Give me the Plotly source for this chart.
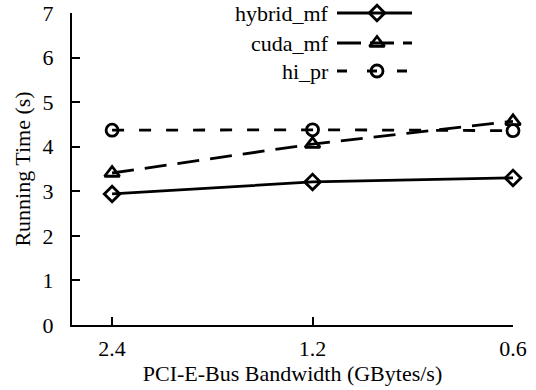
import plotly.graph_objects as go

categories = ["2.4", "1.2", "0.6"]
hybrid_mf = [2.94, 3.21, 3.30]
cuda_mf = [3.41, 4.06, 4.57]
hi_pr = [4.37, 4.38, 4.36]
series_names = ["hybrid_mf", "cuda_mf", "hi_pr"]
y_ticks = [0, 1, 2, 3, 4, 5, 6, 7]

FONT = "Liberation Serif, Times New Roman, serif"
FS = 22
W, H = 536, 390
L, R, T, B = 72, 23, 13, 65
PW, PH = W - L - R, H - T - B


def px_x(v):
    return (v - L) / PW


def px_y(v):
    return (H - B - v) / PH


styles = [
    dict(dash="solid", symbol="diamond-open", size=12),
    dict(dash="22px,11px", symbol="triangle-up-open", size=13),
    dict(dash="12px,15px", symbol="circle-open", size=12),
]
values = [hybrid_mf, cuda_mf, hi_pr]
xs = list(range(len(categories)))

fig = go.Figure()
for name, vals, st in zip(series_names, values, styles):
    fig.add_trace(go.Scatter(
        x=xs, y=vals, mode="lines+markers", name=name, showlegend=False,
        line=dict(color="black", width=2.8, dash=st["dash"]),
        marker=dict(symbol=st["symbol"], size=st["size"], color="black",
                    line=dict(width=2.8, color="black")),
        cliponaxis=False,
    ))

# custom legend (text left, sample to the right)
legend_rows = [13, 43, 71]
legend_dash = ["solid", "24px,9px", "10px,20px"]
for name, st, dsh, yy in zip(series_names, styles, legend_dash, legend_rows):
    fig.add_shape(type="line", xref="paper", yref="paper",
                  x0=px_x(337), x1=px_x(412), y0=px_y(yy), y1=px_y(yy),
                  line=dict(color="black", width=2.8, dash=dsh), layer="below")
    fig.add_trace(go.Scatter(
        x=[377], y=[yy], mode="markers", xaxis="x2", yaxis="y2",
        showlegend=False, hoverinfo="skip", cliponaxis=False,
        marker=dict(symbol=st["symbol"], size=st["size"], color="black",
                    line=dict(width=2.8, color="black")),
    ))
    fig.add_annotation(x=331, y=yy, xref="x2", yref="y2", text=name,
                       showarrow=False, xanchor="right", yanchor="middle",
                       font=dict(family=FONT, size=FS, color="black"))

fig.update_layout(
    width=W, height=H,
    margin=dict(l=L, r=R, t=T, b=B, autoexpand=False),
    paper_bgcolor="white", plot_bgcolor="white",
    font=dict(family=FONT, size=FS, color="black"),
    xaxis=dict(
        range=[-0.2, 2.0], tickvals=xs, ticktext=categories,
        showline=True, linecolor="black", linewidth=2, mirror=False,
        ticks="inside", ticklen=8, tickwidth=1.5, tickcolor="black",
        showgrid=False, zeroline=False, automargin=False,
        ticklabelstandoff=3,
        title=dict(text="PCI-E-Bus Bandwidth (GBytes/s)", standoff=0,
                   font=dict(family=FONT, size=FS)),
    ),
    yaxis=dict(
        range=[0, 7], tickvals=y_ticks,
        showline=True, linecolor="black", linewidth=2,
        ticks="inside", ticklen=8, tickwidth=1.5, tickcolor="black",
        showgrid=False, zeroline=False, automargin=False,
        ticklabelstandoff=12,
        title=dict(text="Running Time (s)", standoff=6,
                   font=dict(family=FONT, size=FS)),
    ),
    xaxis2=dict(overlaying="x", range=[L, W - R], visible=False, fixedrange=True),
    yaxis2=dict(overlaying="y", range=[H - B, T], visible=False, fixedrange=True),
)

fig.write_html("out.html", config={"displayModeBar": False},
               post_script="document.body.style.margin='0';")
